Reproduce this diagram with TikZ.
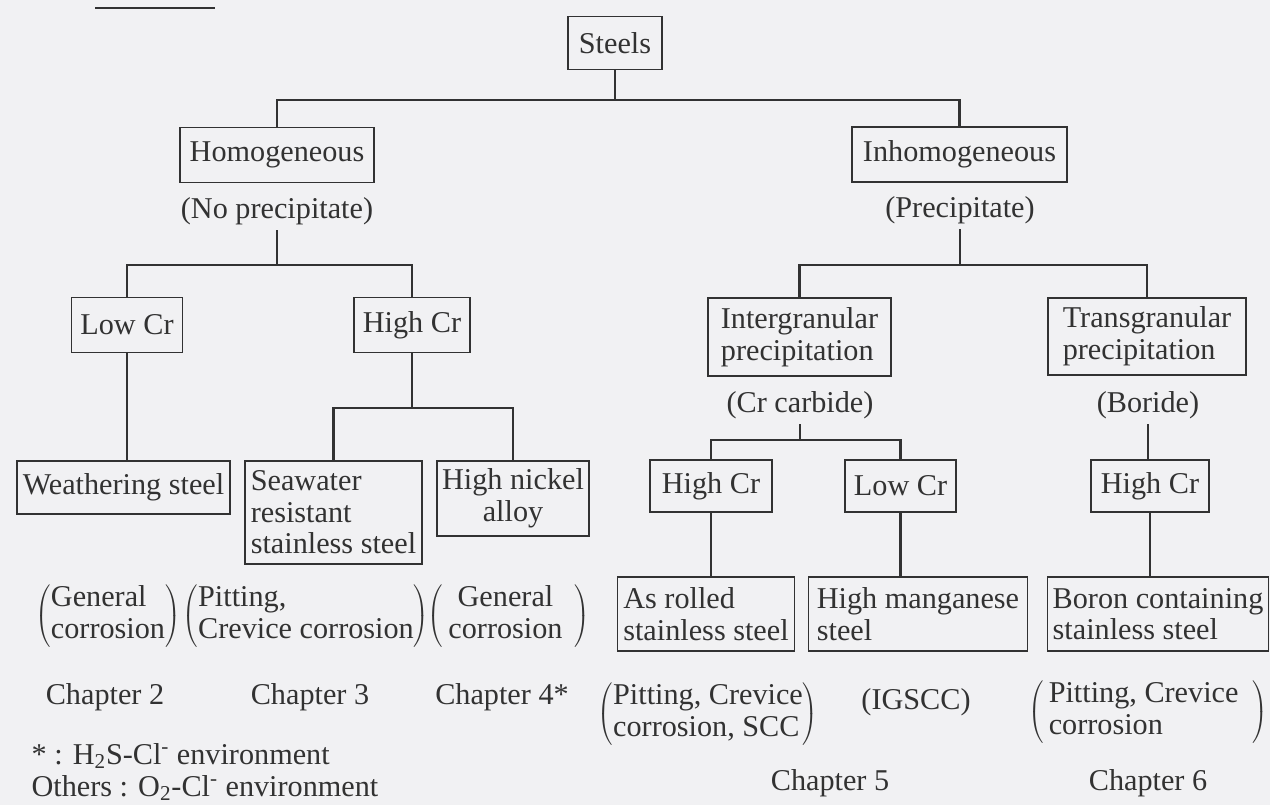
\documentclass[tikz,border=0pt]{standalone}
\usepackage{fontspec}
\setmainfont{Liberation Serif}
\usetikzlibrary{positioning, calc}

\definecolor{paper}{RGB}{241,241,243}
\definecolor{ink}{RGB}{50,50,50}

\begin{document}
\begin{tikzpicture}[
    x=0.02cm, y=-0.02cm,
    font=\fontsize{17.2}{18}\selectfont,
    text=ink,
    box/.style={rectangle, draw=ink, line width=0.8pt, inner xsep=3pt, inner ysep=2pt, align=left},
    size/.style 2 args={minimum width=#1*0.02cm, minimum height=#2*0.02cm},
    note/.style={inner sep=3pt, align=center},
    link/.style={draw=ink, line width=1.2pt}
]

\useasboundingbox[fill=paper] (0,0) rectangle (1270,805);
\draw[ink, line width=1.6pt] (95,8) -- (215,8);

% Root
\node[box, size={94}{53}] (steels) at (615,43) {Steels};

% First split
\node[box, size={194}{55}] (homo) at (277,155) {Homogeneous};
\node[box, size={215}{55}] (inhomo) at (959.5,154.5) {Inhomogeneous};
\node[note] (noprec) at (277,211) {(No precipitate)};
\node[note] (prec) at (960,210) {(Precipitate)};

\coordinate (j1) at (615,100);
\draw[link] (steels) -- (j1);
\draw[link] (homo) |- (j1) -| (inhomo);

% Homogeneous branch
\node[box, size={111}{55}] (lowcr) at (127,325) {Low Cr};
\node[box, size={116}{55}] (highcr) at (412,325) {High Cr};
\coordinate (j2) at (277,265);
\draw[link] (noprec) -- (j2);
\draw[link] (lowcr) |- (j2) -| (highcr);

\node[box, size={213}{53}] (weather) at (123.5,487.5) {Weathering steel};
\node[box, size={177}{103}] (seawater) at (333.5,512.5) {Seawater\\resistant\\stainless steel};
\node[box, size={152}{75}, align=center] (nickel) at (513,498.5) {High nickel\\alloy};
\draw[link] (lowcr) -- (lowcr |- weather.north);
\coordinate (j3) at (412,408);
\draw[link] (highcr) -- (j3);
\draw[link] (seawater) |- (j3) -| (nickel);

% Corrosion types (left)
\node[note, inner sep=0pt] (gen1) at (108,616)
    {$\left(\begin{tabular}{@{}l@{}}General\\corrosion\end{tabular}\right)$};
\node[note, inner sep=0pt] (pit1) at (306,616)
    {$\left(\begin{tabular}{@{}l@{}}Pitting,\\Crevice corrosion\end{tabular}\right)$};
\node[note, inner sep=0pt] (gen2) at (509,616)
    {$\left(\begin{tabular}{@{\hspace{3pt}}c@{\hspace{7pt}}}General\\corrosion\end{tabular}\right)$};

\node[note] (ch2) at (105,697) {Chapter 2};
\node[note] (ch3) at (310,697) {Chapter 3};
\node[note] (ch4) at (502,697) {Chapter 4*};

% Environments
\node[note, anchor=west, align=left] (envnote) at (26,772)
    {* : H\textsubscript{2}S-Cl\textsuperscript{-} environment\\
     Others : O\textsubscript{2}-Cl\textsuperscript{-} environment};

% Inhomogeneous branch
\node[box, size={183}{78}] (inter) at (799.5,337) {Intergranular\\precipitation};
\node[box, size={198}{77}] (trans) at (1147,336.5) {Transgranular\\precipitation};
\coordinate (j4) at (960,265);
\draw[link] (prec) -- (j4);
\draw[link] (inter) |- (j4) -| (trans);

\node[note] (crcarb) at (800,405) {(Cr carbide)};
\node[note] (boride) at (1148,405) {(Boride)};

\node[box, size={122}{52}] (highcr2) at (711,486) {High Cr};
\node[box, size={111}{52}] (lowcr2) at (900.5,486) {Low Cr};
\node[box, size={118}{52}] (highcr3) at (1150,486) {High Cr};
\coordinate (j5) at (800,440);
\draw[link] (crcarb) -- (j5);
\draw[link] (highcr2) |- (j5) -| (lowcr2);
\draw[link] (boride) -- (boride |- highcr3.north);

\node[box, size={177}{74}] (asrolled) at (706,614) {As rolled\\stainless steel};
\node[box, size={219}{74}] (highmn) at (918,614) {High manganese\\steel};
\node[box, size={220}{74}] (boron) at (1158,614) {Boron containing\\stainless steel};
\draw[link] (highcr2) -- (highcr2 |- asrolled.north);
\draw[link] (lowcr2) -- (lowcr2 |- highmn.north);
\draw[link] (highcr3) -- (highcr3 |- boron.north);

% Corrosion types (right)
\node[note, inner sep=0pt] (pit2) at (708,714)
    {$\left(\begin{tabular}{@{}l@{}}Pitting, Crevice\\corrosion, SCC\end{tabular}\right)$};
\node[note] (igscc) at (916,702) {(IGSCC)};
\node[note, inner sep=0pt] (pit3) at (1148,712)
    {$\left(\begin{tabular}{@{\hspace{3pt}}l@{\hspace{8pt}}}Pitting, Crevice\\corrosion\end{tabular}\right)$};

\node[note] (ch5) at (830,783) {Chapter 5};
\node[note] (ch6) at (1148,783) {Chapter 6};

\end{tikzpicture}
\end{document}
